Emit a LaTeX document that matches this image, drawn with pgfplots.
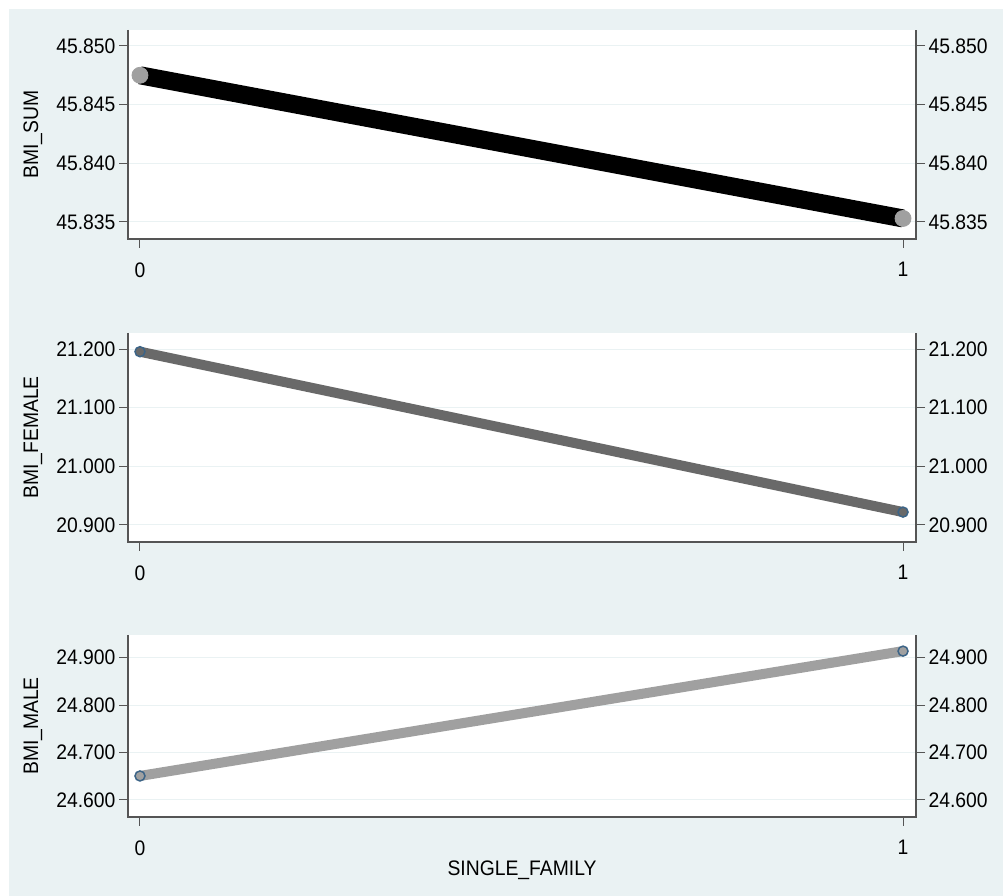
\documentclass[border=0pt]{standalone}
\usepackage{pgfplots}
\pgfplotsset{compat=1.18}
\usepackage{fontspec}
\setmainfont[FakeStretch=0.92]{Liberation Sans}
\definecolor{bg}{RGB}{234,242,243}
\definecolor{gridc}{RGB}{234,242,243}
\definecolor{axc}{RGB}{85,85,85}
\definecolor{mk}{RGB}{60,100,135}
\definecolor{ln1}{RGB}{0,0,0}
\definecolor{ln2}{RGB}{105,105,105}
\definecolor{ln3}{RGB}{160,160,160}
\definecolor{mk1}{RGB}{160,160,160}
\pgfplotsset{
  panel/.style={scale only axis, width=788pt, xmin=-0.0157, xmax=1.017,
    axis line style={draw=none}, axis background/.style={fill=white},
    xtick={0,1}, xticklabels={0,1}, xtick pos=lower, ytick pos=left,
    tick align=outside, major tick length=9pt,
    tick style={axc, line width=1pt},
    ymajorgrids, grid style={gridc, line width=1pt},
    ticklabel style={font=\fontsize{21}{24}\selectfont, text=black},
    xticklabel style={yshift=-11pt},
    label style={font=\fontsize{21}{24}\selectfont},
    clip=false},
  rpanel/.style={scale only axis, width=788pt, xmin=-0.0157, xmax=1.017,
    axis line style={draw=none}, hide x axis,
    ytick pos=right, yticklabel pos=right,
    tick align=outside, major tick length=9pt,
    tick style={axc, line width=1pt},
    ticklabel style={font=\fontsize{21}{24}\selectfont, text=black}},
  every axis y label/.style={rotate=90, anchor=center},
}
\newcommand{\frameaxis}{\draw[axc, line width=1.3pt] (rel axis cs:0,1) -- (rel axis cs:0,0) -- (rel axis cs:1,0) -- (rel axis cs:1,1);}
\begin{document}
\begin{tikzpicture}
\fill[white] (0pt,0pt) rectangle (1003pt,896pt);
\fill[bg] (9pt,0pt) rectangle (1003pt,887pt);
% Panel 1
\begin{axis}[panel, at={(128pt,657pt)}, anchor=south west, height=209pt,
  ymin=45.83355, ymax=45.85136,
  ytick={45.835,45.840,45.845,45.850}, yticklabels={45.835,45.840,45.845,45.850},
  ylabel={BMI\_SUM}, ylabel style={at={([xshift=-95pt]rel axis cs:0,0.5)}}]
\addplot[ln1, line width=18pt, line cap=butt, mark=*, mark size=8pt, mark options={fill=mk1, draw=mk1, line width=0.8pt}] coordinates {(0,45.8475) (1,45.8353)};
\frameaxis
\end{axis}
\begin{axis}[rpanel, at={(128pt,657pt)}, anchor=south west, height=209pt,
  ymin=45.83355, ymax=45.85136,
  ytick={45.835,45.840,45.845,45.850}, yticklabels={45.835,45.840,45.845,45.850}]
\end{axis}
% Panel 2
\begin{axis}[panel, at={(128pt,354pt)}, anchor=south west, height=209pt,
  ymin=20.871, ymax=21.2273,
  ytick={20.9,21.0,21.1,21.2}, yticklabels={20.900,21.000,21.100,21.200},
  ylabel={BMI\_FEMALE}, ylabel style={at={([xshift=-95pt]rel axis cs:0,0.5)}}]
\addplot[ln2, line width=10pt, mark=*, mark size=5pt, mark options={fill=ln2, draw=mk, line width=1.5pt}] coordinates {(0,21.1954) (1,20.922)};
\frameaxis
\end{axis}
\begin{axis}[rpanel, at={(128pt,354pt)}, anchor=south west, height=209pt,
  ymin=20.871, ymax=21.2273,
  ytick={20.9,21.0,21.1,21.2}, yticklabels={20.900,21.000,21.100,21.200}]
\end{axis}
% Panel 3
\begin{axis}[panel, at={(128pt,79pt)}, anchor=south west, height=182pt,
  ymin=24.564, ymax=24.948,
  ytick={24.6,24.7,24.8,24.9}, yticklabels={24.600,24.700,24.800,24.900},
  ylabel={BMI\_MALE}, ylabel style={at={([xshift=-95pt]rel axis cs:0,0.5)}},
  xlabel={SINGLE\_FAMILY}, xlabel style={at={(rel axis cs:0.5,0)}, anchor=center, yshift=-53pt}]
\addplot[ln3, line width=10pt, mark=*, mark size=5pt, mark options={fill=ln3, draw=mk, line width=1.5pt}] coordinates {(0,24.6506) (1,24.914)};
\frameaxis
\end{axis}
\begin{axis}[rpanel, at={(128pt,79pt)}, anchor=south west, height=182pt,
  ymin=24.564, ymax=24.948,
  ytick={24.6,24.7,24.8,24.9}, yticklabels={24.600,24.700,24.800,24.900}]
\end{axis}
\end{tikzpicture}
\end{document}
